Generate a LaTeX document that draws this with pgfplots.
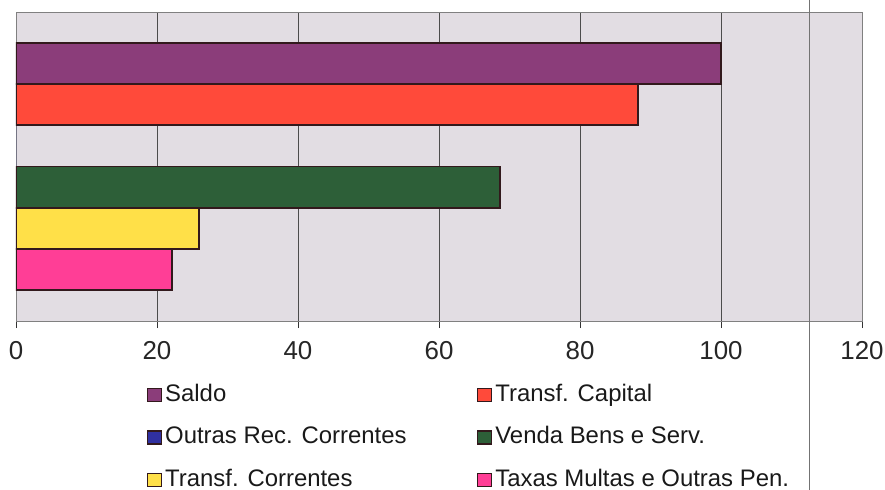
\documentclass[border=0pt]{standalone}
\usepackage{fontspec}
\setmainfont{Liberation Sans}
\usepackage{pgfplots}
\pgfplotsset{compat=1.18}
\definecolor{cSaldo}{RGB}{139,61,122}
\definecolor{cCapital}{RGB}{255,74,58}
\definecolor{cOutras}{RGB}{48,48,160}
\definecolor{cVenda}{RGB}{45,95,56}
\definecolor{cCorr}{RGB}{255,224,72}
\definecolor{cTaxas}{RGB}{255,62,150}
\definecolor{bg}{RGB}{226,221,227}
\definecolor{barline}{RGB}{50,25,28}
\begin{document}
\begin{tikzpicture}
\useasboundingbox (-16bp,-169bp) rectangle (869bp,321bp);
\begin{axis}[
  at={(0,0)}, anchor=south west,
  width=846bp, height=309bp, scale only axis,
  xmin=0, xmax=120, ymin=-1.25, ymax=6.25, y dir=reverse,
  xbar, bar width=1,
  xtick={0,20,...,120}, ytick=\empty,
  xmajorgrids, grid style={color=black!70, line width=0.8bp},
  axis background/.style={fill=bg},
  axis line style={black!50, line width=0.8bp},
  tick align=outside, xtick pos=bottom, major tick length=7bp,
  x tick style={black!80, line width=0.8bp},
  xticklabel style={font=\fontsize{26}{30}\selectfont, yshift=-10bp, text=black!85},
  /pgf/number format/assume math mode=true,
  legend columns=2,
  legend image code/.code={\draw[#1,draw=barline,line width=1.2bp] (0bp,-6.5bp) rectangle (14bp,6.5bp);},
  legend style={draw=none, fill=none, inner sep=0pt, outer sep=0pt,
    at={(0.1548,-0.204)}, anchor=north west,
    font=\fontsize{24}{28}\selectfont, row sep=20.5bp, column sep=3bp,
    nodes={inner sep=0pt, text height=17bp, text depth=5bp, anchor=west, text=black!90}},
]
\addplot[fill=cSaldo, draw=barline, line width=1.8bp, bar shift=0pt] coordinates {(100,0)};
\addlegendentry{\makebox[309bp][l]{Saldo}}
\addplot[fill=cCapital, draw=barline, line width=1.8bp, bar shift=0pt] coordinates {(88.2,1)};
\addlegendentry{Transf. Capital}
\addplot[fill=cOutras, draw=none, bar shift=0pt] coordinates {(0,2)};
\addlegendentry{\makebox[309bp][l]{Outras Rec. Correntes}}
\addplot[fill=cVenda, draw=barline, line width=1.8bp, bar shift=0pt] coordinates {(68.7,3)};
\addlegendentry{Venda Bens e Serv.}
\addplot[fill=cCorr, draw=barline, line width=1.8bp, bar shift=0pt] coordinates {(26.0,4)};
\addlegendentry{\makebox[309bp][l]{Transf. Correntes}}
\addplot[fill=cTaxas, draw=barline, line width=1.8bp, bar shift=0pt] coordinates {(22.1,5)};
\addlegendentry{Taxas Multas e Outras Pen.}
\end{axis}
\draw[black!55, line width=0.8bp] (793bp,321bp) -- (793bp,-169bp);
\end{tikzpicture}
\end{document}
